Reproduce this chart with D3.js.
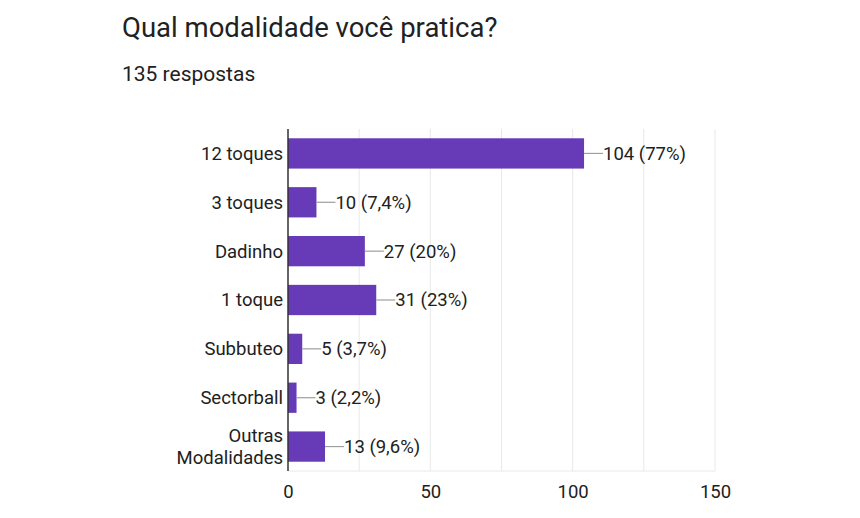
<!DOCTYPE html>
<html>
<head>
<meta charset="utf-8">
<script src="https://cdn.jsdelivr.net/npm/d3@7"></script>
<style>
  body { margin: 0; background: #fff; }
  text { font-family: Roboto, "Noto Sans", sans-serif; fill: #212121; }
</style>
</head>
<body>
<svg id="chart" width="860" height="518"></svg>
<script>
const categories = ["12 toques", "3 toques", "Dadinho", "1 toque", "Subbuteo", "Sectorball", "Outras Modalidades"];
const counts = [104, 10, 27, 31, 5, 3, 13];
const percents = ["77%", "7,4%", "20%", "23%", "3,7%", "2,2%", "9,6%"];
const tickValues = [0, 50, 100, 150];
const gridValues = [25, 50, 75, 100, 125, 150];

const svg = d3.select("#chart");
const margin = {left: 288, right: 145, top: 129, bottom: 47};
const width = 860 - margin.left - margin.right;
const height = 518 - margin.top - margin.bottom;

svg.append("text").attr("x", 122).attr("y", 37)
  .attr("font-size", 27.5).text("Qual modalidade você pratica?");
svg.append("text").attr("x", 122).attr("y", 81)
  .attr("font-size", 21).text("135 respostas");

const g = svg.append("g").attr("transform", `translate(${margin.left},${margin.top})`);

const x = d3.scaleLinear().domain([0, 150]).range([0, width]);
const y = d3.scaleBand().domain(categories).range([0, height]).paddingInner(0.38).paddingOuter(0.19);

// grid
g.selectAll(".grid").data(gridValues).enter().append("line")
  .attr("x1", d => x(d)).attr("x2", d => x(d))
  .attr("y1", 0).attr("y2", height)
  .attr("stroke", "#e8e8e8").attr("stroke-width", 1);
g.append("line").attr("x1", 0).attr("x2", width).attr("y1", height).attr("y2", height)
  .attr("stroke", "#e8e8e8");

// bars
const data = categories.map((c, i) => ({cat: c, v: counts[i], p: percents[i]}));
g.selectAll(".bar").data(data).enter().append("rect")
  .attr("x", 0).attr("y", d => y(d.cat))
  .attr("width", d => x(d.v)).attr("height", y.bandwidth())
  .attr("fill", "#673ab7");

// leader lines and labels
g.selectAll(".lead").data(data).enter().append("line")
  .attr("x1", d => x(d.v)).attr("x2", d => x(d.v) + 19)
  .attr("y1", d => y(d.cat) + y.bandwidth() / 2).attr("y2", d => y(d.cat) + y.bandwidth() / 2)
  .attr("stroke", "#9e9e9e").attr("stroke-width", 1.2);
g.selectAll(".lbl").data(data).enter().append("text")
  .attr("x", d => x(d.v) + 19).attr("y", d => y(d.cat) + y.bandwidth() / 2)
  .attr("dy", "0.35em").attr("font-size", 18.5)
  .text(d => `${d.v} (${d.p})`);

// y axis line
g.append("line").attr("x1", 0).attr("x2", 0).attr("y1", 0).attr("y2", height)
  .attr("stroke", "#333").attr("stroke-width", 1.5);

// category labels
g.selectAll(".cat").data(data).enter().append("text")
  .attr("x", -5).attr("text-anchor", "end").attr("font-size", 18.5)
  .attr("y", d => y(d.cat) + y.bandwidth() / 2)
  .each(function(d) {
    const words = d.cat === "Outras Modalidades" ? ["Outras", "Modalidades"] : [d.cat];
    const t = d3.select(this);
    words.forEach((w, i) => {
      t.append("tspan").attr("x", -5)
        .attr("dy", i === 0 ? (words.length > 1 ? "-0.27em" : "0.35em") : "1.2em")
        .text(w);
    });
  });

// x axis ticks
const xAxis = d3.axisBottom(x).tickValues(tickValues).tickSize(0).tickPadding(14);
const ax = g.append("g").attr("transform", `translate(0,${height})`).call(xAxis);
ax.select(".domain").remove();
ax.selectAll("text").attr("font-size", 18.5).style("font-family", "Roboto, sans-serif").attr("fill", "#212121");
</script>
</body>
</html>
